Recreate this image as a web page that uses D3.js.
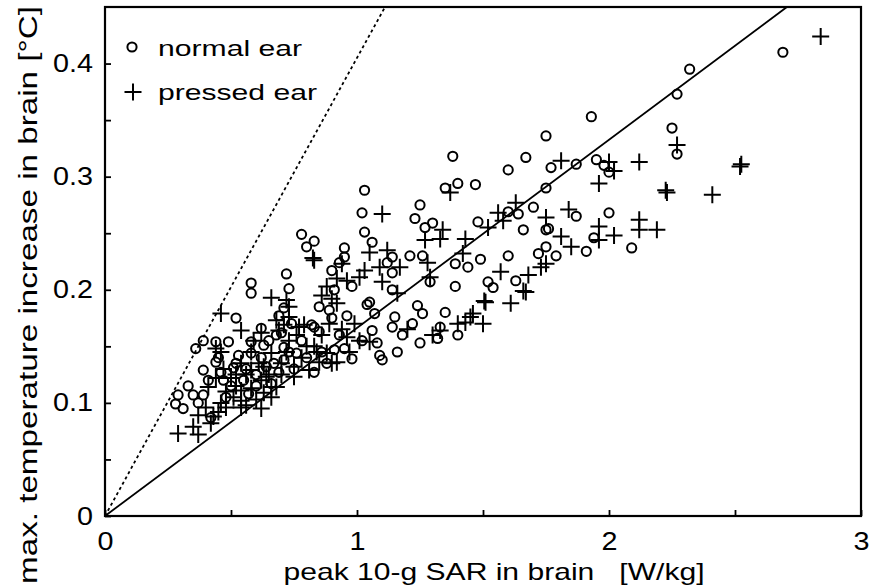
<!DOCTYPE html>
<html>
<head>
<meta charset="utf-8">
<script src="https://cdn.jsdelivr.net/npm/d3@7"></script>
<style>
  body { margin: 0; background: #fff; }
  text { font-family: "Liberation Sans", Arial, sans-serif; fill: #000; }
</style>
</head>
<body>
<script>
// normal ear (circles)
var normalSar = [2.69, 2.32, 2.27, 1.93, 2.25, 2.27, 1.95, 1.98, 2.00, 1.87, 1.75, 1.77, 1.75, 1.87, 2.00,
  1.76, 1.94, 1.75, 1.79, 1.91, 2.09, 1.38, 1.67, 1.60, 1.35, 1.40, 1.47, 1.25, 1.23, 1.30,
  1.27, 1.48, 1.60, 1.64, 1.70, 1.66, 1.75, 1.21, 1.26, 1.14, 1.39, 1.44, 1.49, 1.60, 1.72,
  1.29, 1.39, 1.52, 1.54, 1.63, 1.24, 1.35, 1.15, 1.26, 1.33, 1.40, 1.22, 1.18, 1.32, 1.25,
  1.03, 1.02, 1.03, 1.06, 0.78, 0.80, 0.83, 0.95, 0.95, 0.93, 0.90, 0.72, 0.73, 0.58, 0.58,
  1.12, 1.14, 0.98, 1.14, 1.05, 0.91, 0.52, 0.62, 0.69, 0.83, 0.85, 0.89, 0.90, 0.96, 1.04,
  0.39, 0.44, 0.49, 0.58, 0.36, 0.44, 0.39, 0.46, 0.29, 0.35, 0.39, 0.31, 0.28, 0.37, 0.58,
  0.63, 0.42, 0.45, 0.51, 1.07, 0.82, 0.85, 1.14, 1.06, 1.02, 0.95, 0.91, 0.98, 1.09, 1.10,
  1.16, 1.08, 0.70, 0.76, 0.71, 0.71, 0.65, 0.69, 0.64, 0.66, 0.71, 0.83,
  0.55, 0.60, 0.50, 0.75, 0.80, 0.88, 0.57, 0.53,
  0.47, 0.52, 0.56, 0.62, 0.67, 0.73, 0.78, 0.86, 0.60, 0.48, 0.41, 0.68, 0.74, 0.93, 0.33];
var normalRise = [0.410, 0.395, 0.373, 0.353, 0.343, 0.320, 0.315, 0.310, 0.304, 0.311, 0.336, 0.308, 0.290, 0.265, 0.268,
  0.254, 0.246, 0.238, 0.230, 0.234, 0.237, 0.318, 0.317, 0.306, 0.290, 0.294, 0.293, 0.275, 0.263, 0.259,
  0.255, 0.260, 0.269, 0.267, 0.273, 0.253, 0.253, 0.230, 0.230, 0.229, 0.223, 0.220, 0.227, 0.230, 0.232,
  0.207, 0.203, 0.207, 0.202, 0.208, 0.186, 0.180, 0.176, 0.179, 0.167, 0.160, 0.170, 0.160, 0.157, 0.153,
  0.288, 0.268, 0.251, 0.242, 0.249, 0.238, 0.243, 0.237, 0.229, 0.224, 0.217, 0.214, 0.201, 0.206, 0.197,
  0.224, 0.215, 0.203, 0.200, 0.189, 0.200, 0.175, 0.166, 0.177, 0.167, 0.185, 0.182, 0.175, 0.177, 0.187,
  0.155, 0.154, 0.154, 0.154, 0.148, 0.136, 0.129, 0.127, 0.107, 0.107, 0.107, 0.095, 0.099, 0.100, 0.144,
  0.151, 0.087, 0.140, 0.131, 0.179, 0.169, 0.163, 0.167, 0.164, 0.155, 0.148, 0.147, 0.139, 0.142, 0.138,
  0.145, 0.153, 0.162, 0.144, 0.149, 0.138, 0.155, 0.127, 0.132, 0.117, 0.184, 0.127,
  0.120, 0.125, 0.115, 0.130, 0.140, 0.135, 0.108, 0.142,
  0.120, 0.135, 0.130, 0.140, 0.135, 0.145, 0.155, 0.145, 0.115, 0.105, 0.120, 0.160, 0.170, 0.160, 0.115];

// pressed ear (crosses)
var pressedSar = [2.84, 2.27, 1.81, 2.00, 2.02, 2.12, 1.96, 2.23, 2.225, 2.41, 2.52, 2.525, 1.84, 1.75, 1.96,
  2.12, 2.12, 2.19, 2.02, 1.81, 1.85, 1.96, 1.73, 1.37, 1.63, 1.56, 1.58, 1.52, 1.34, 1.27,
  1.33, 1.43, 1.42, 1.17, 1.28, 1.57, 1.75, 1.68, 1.67, 1.66, 1.51, 1.505, 1.61, 1.45, 1.50,
  1.40, 1.29, 1.16, 1.33, 1.10, 0.83, 0.825, 1.05, 1.12, 0.94, 1.03, 1.09, 0.88, 0.96, 1.01,
  1.10, 0.66, 0.86, 0.72, 0.46, 0.54, 0.73, 0.73, 0.71, 0.79, 0.92, 0.90, 0.92, 0.29, 0.37,
  0.35, 0.42, 0.43, 0.37, 0.45, 0.40, 0.46, 0.48, 0.54, 0.56, 0.51, 0.46, 0.44, 0.50, 0.54,
  0.58, 0.62, 0.54, 0.58, 0.63, 0.66, 0.66, 0.44, 0.62, 0.41, 0.54, 0.68, 0.77, 0.89, 0.96,
  1.01, 1.05, 0.92, 0.85, 0.81, 0.88, 0.73, 0.75, 0.64, 0.68, 0.63, 0.66, 0.75, 0.69, 0.90,
  1.46, 1.43, 1.20, 1.30, 0.58, 0.60, 0.70, 0.78, 0.83, 0.86, 0.97, 0.52,
  0.48, 0.52, 0.56, 0.61, 0.65, 0.70, 0.72, 0.80, 0.76, 0.84, 0.59, 0.47, 0.62, 0.94, 0.99];
var pressedRise = [0.424, 0.328, 0.314, 0.313, 0.305, 0.313, 0.294, 0.286, 0.288, 0.284, 0.309, 0.311, 0.271, 0.264, 0.256,
  0.262, 0.253, 0.253, 0.248, 0.247, 0.238, 0.244, 0.220, 0.286, 0.277, 0.268, 0.261, 0.255, 0.253, 0.244,
  0.245, 0.245, 0.232, 0.220, 0.224, 0.216, 0.223, 0.213, 0.198, 0.199, 0.189, 0.190, 0.188, 0.176, 0.170,
  0.170, 0.211, 0.197, 0.164, 0.267, 0.226, 0.228, 0.233, 0.235, 0.223, 0.217, 0.220, 0.203, 0.208, 0.211,
  0.207, 0.193, 0.195, 0.191, 0.179, 0.164, 0.185, 0.176, 0.169, 0.169, 0.210, 0.192, 0.188, 0.073, 0.072,
  0.079, 0.082, 0.088, 0.089, 0.092, 0.096, 0.100, 0.096, 0.096, 0.098, 0.105, 0.145, 0.122, 0.122, 0.111,
  0.113, 0.120, 0.135, 0.129, 0.132, 0.144, 0.114, 0.148, 0.162, 0.114, 0.102, 0.173, 0.167, 0.170, 0.158,
  0.155, 0.154, 0.136, 0.136, 0.129, 0.144, 0.155, 0.132, 0.123, 0.114, 0.109, 0.105, 0.123, 0.164, 0.135,
  0.179, 0.171, 0.165, 0.160, 0.145, 0.103, 0.135, 0.140, 0.150, 0.160, 0.145, 0.125,
  0.110, 0.115, 0.125, 0.135, 0.125, 0.125, 0.145, 0.150, 0.160, 0.145, 0.155, 0.130, 0.095, 0.165, 0.170];

// reference lines through the origin (slope in degC per W/kg)
var solidSlope = 0.1663;
var dashedSlope = 0.405;

var xTicks = [0, 0.5, 1, 1.5, 2, 2.5, 3];
var yTicks = [0, 0.05, 0.1, 0.15, 0.2, 0.25, 0.3, 0.35, 0.4];

// set the dimensions and margins of the graph
var margin = {top: 7, right: 15, bottom: 72, left: 105},
    width = 876 - margin.left - margin.right,
    height = 588 - margin.top - margin.bottom;

var x = d3.scaleLinear().domain([0, 3]).range([0, width]);
var y = d3.scaleLinear().domain([0, 0.45]).range([height, 0]);

var svg = d3.select("body").append("svg")
    .attr("width", 876)
    .attr("height", 588);

var g = svg.append("g")
    .attr("transform", "translate(" + margin.left + "," + margin.top + ")");

// stretch text sideways, the original lettering is wide
function widen(sel, factor) {
  sel.each(function() {
    var w = this.getComputedTextLength();
    d3.select(this)
      .attr("textLength", w * factor)
      .attr("lengthAdjust", "spacingAndGlyphs");
  });
}

// fit lines
var line = d3.line()
    .x(function(d) { return x(d[0]); })
    .y(function(d) { return y(d[1]); });

g.append("path")
    .datum([[0, 0], [0.45 / dashedSlope, 0.45]])
    .attr("d", line)
    .attr("fill", "none")
    .attr("stroke", "#000")
    .attr("stroke-width", 1.8)
    .attr("stroke-dasharray", "3,3");

g.append("path")
    .datum([[0, 0], [0.45 / solidSlope, 0.45]])
    .attr("d", line)
    .attr("fill", "none")
    .attr("stroke", "#000")
    .attr("stroke-width", 1.8);

// points
var normal = normalSar.map(function(v, i) { return {x: v, y: normalRise[i]}; });
var pressed = pressedSar.map(function(v, i) { return {x: v, y: pressedRise[i]}; });

g.selectAll(".normal")
    .data(normal)
  .enter().append("circle")
    .attr("class", "normal")
    .attr("cx", function(d) { return x(d.x); })
    .attr("cy", function(d) { return y(d.y); })
    .attr("r", 4.6)
    .attr("fill", "none")
    .attr("stroke", "#000")
    .attr("stroke-width", 2);

g.selectAll(".pressed")
    .data(pressed)
  .enter().append("path")
    .attr("class", "pressed")
    .attr("transform", function(d) { return "translate(" + x(d.x) + "," + y(d.y) + ")"; })
    .attr("d", "M-8.5,0H8.5M0,-8.5V8.5")
    .attr("fill", "none")
    .attr("stroke", "#000")
    .attr("stroke-width", 2);

// axes
var xAxis = g.append("g")
    .attr("transform", "translate(0," + height + ")")
    .call(d3.axisBottom(x)
      .tickValues(xTicks)
      .tickSizeInner(-6)
      .tickSizeOuter(0)
      .tickPadding(16)
      .tickFormat(function(d) { return Number.isInteger(d) ? d : ""; }));

var yAxis = g.append("g")
    .call(d3.axisLeft(y)
      .tickValues(yTicks)
      .tickSizeInner(-6)
      .tickSizeOuter(0)
      .tickPadding(12)
      .tickFormat(function(d) {
        if (Math.round(d * 100) % 10 !== 0) return "";
        return d === 0 ? "0" : d.toFixed(1);
      }));

[xAxis, yAxis].forEach(function(a) {
  a.select(".domain").remove();
  a.selectAll("line").attr("stroke", "#000").attr("stroke-width", 1.8);
  a.selectAll("text")
    .attr("font-family", "Liberation Sans, Arial, sans-serif")
    .attr("font-size", 25);
  widen(a.selectAll("text"), 1.15);
});

// frame
g.append("rect")
    .attr("width", width)
    .attr("height", height)
    .attr("fill", "none")
    .attr("stroke", "#000")
    .attr("stroke-width", 2.2);

// legend
g.append("circle")
    .attr("cx", 27).attr("cy", 40).attr("r", 4.6)
    .attr("fill", "none").attr("stroke", "#000").attr("stroke-width", 2);
g.append("path")
    .attr("transform", "translate(28,85)")
    .attr("d", "M-8.5,0H8.5M0,-8.5V8.5")
    .attr("stroke", "#000").attr("stroke-width", 2);

g.append("text")
    .attr("x", 53).attr("y", 49)
    .attr("font-size", 22)
    .attr("textLength", 144).attr("lengthAdjust", "spacingAndGlyphs")
    .text("normal ear");
g.append("text")
    .attr("x", 53).attr("y", 93)
    .attr("font-size", 22)
    .attr("textLength", 159).attr("lengthAdjust", "spacingAndGlyphs")
    .text("pressed ear");

// axis titles
svg.append("text")
    .attr("x", 494).attr("y", 580)
    .attr("text-anchor", "middle")
    .attr("font-size", 24)
    .attr("textLength", 421).attr("lengthAdjust", "spacingAndGlyphs")
    .style("white-space", "pre")
    .text("peak 10-g SAR in brain   [W/kg]");

svg.append("text")
    .attr("transform", "translate(37,295) rotate(-90)")
    .attr("text-anchor", "middle")
    .attr("font-size", 26)
    .attr("textLength", 578).attr("lengthAdjust", "spacingAndGlyphs")
    .text("max. temperature increase in brain [\u00b0C]");
</script>
</body>
</html>
